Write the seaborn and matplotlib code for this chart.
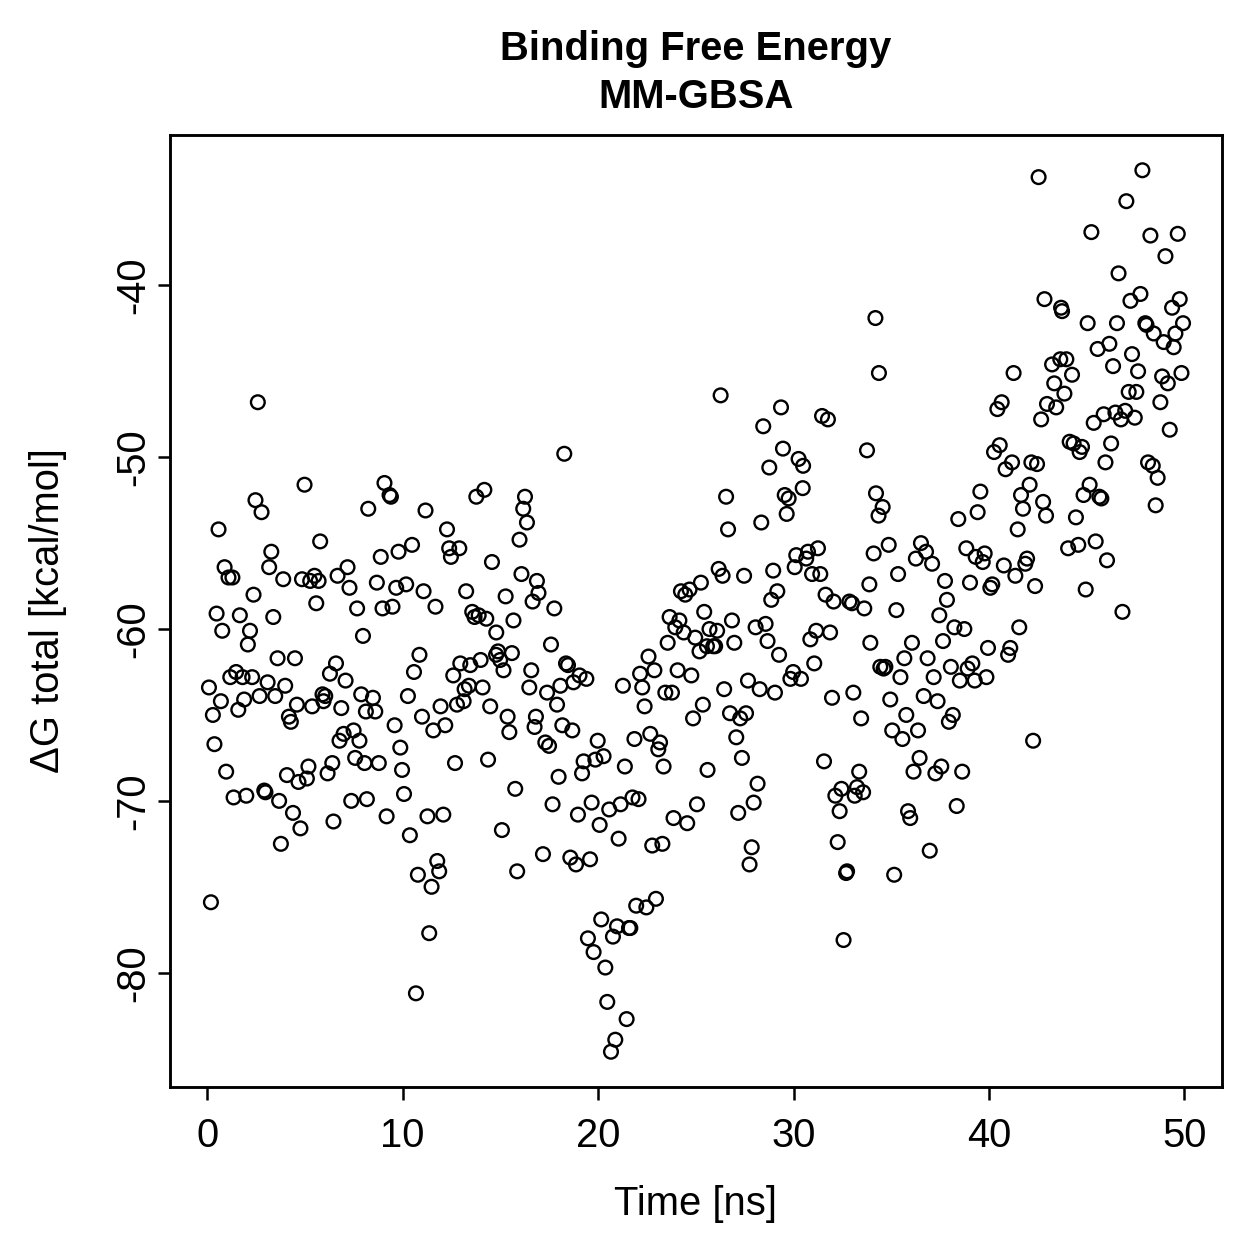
"""
Binding Free Energy (MM-GBSA) ao longo da simulação — gráfico de dispersão
no estilo do plot() base do R: círculos abertos, caixa em volta, eixo y
com rótulos rotacionados.
"""

import numpy as np
import pandas as pd
import matplotlib
matplotlib.use('Agg')
import matplotlib.pyplot as plt
import seaborn as sns

# ── Dados ────────────────────────────────────────────────────────────────────
time_ns = [
    0.09, 0.19, 0.29, 0.37, 0.48, 0.58, 0.70, 0.77, 0.89, 0.97,
    1.09, 1.18, 1.29, 1.35, 1.48, 1.59, 1.67, 1.81, 1.89, 2.00,
    2.08, 2.19, 2.30, 2.37, 2.47, 2.59, 2.68, 2.78, 2.92, 2.98,
    3.09, 3.17, 3.28, 3.38, 3.48, 3.60, 3.68, 3.77, 3.89, 3.99,
    4.08, 4.18, 4.28, 4.39, 4.49, 4.59, 4.67, 4.77, 4.85, 4.98,
    5.10, 5.18, 5.27, 5.37, 5.49, 5.58, 5.70, 5.78, 5.90, 5.95, 6.04,
    6.16, 6.28, 6.40, 6.46, 6.59, 6.67, 6.77, 6.86, 6.98,
    7.08, 7.18, 7.28, 7.37, 7.49, 7.57, 7.67, 7.79, 7.88, 7.97,
    8.05, 8.12, 8.17, 8.24, 8.48, 8.60, 8.68, 8.78, 8.88, 8.97,
    9.07, 9.18, 9.33, 9.40, 9.48, 9.59, 9.67, 9.79, 9.88, 9.97,
    10.07, 10.18, 10.27, 10.37, 10.48, 10.58, 10.68, 10.78, 10.86, 10.99,
    11.07, 11.17, 11.27, 11.36, 11.48, 11.57, 11.68, 11.77, 11.87, 11.94,
    12.08, 12.18, 12.27, 12.38, 12.47, 12.59, 12.68, 12.78, 12.90, 12.95,
    13.12, 13.17, 13.25, 13.39, 13.46, 13.56, 13.68, 13.77, 13.89, 13.99,
    14.09, 14.18, 14.28, 14.37, 14.48, 14.57, 14.78, 14.79, 14.88, 14.99,
    15.08, 15.16, 15.27, 15.37, 15.46, 15.59, 15.67, 15.76, 15.86, 15.98,
    16.08, 16.17, 16.26, 16.36, 16.48, 16.58, 16.65, 16.75, 16.82, 16.87, 16.95,
    17.18, 17.30, 17.39, 17.49, 17.59, 17.67, 17.76, 17.90, 17.98,
    18.07, 18.17, 18.27, 18.36, 18.46, 18.58, 18.68, 18.74, 18.87, 18.97,
    19.05, 19.18, 19.26, 19.40, 19.48, 19.59, 19.67, 19.77, 19.86, 19.98,
    20.08, 20.16, 20.28, 20.37, 20.47, 20.57, 20.66, 20.76, 20.88, 20.97,
    21.05, 21.15, 21.27, 21.37, 21.46, 21.58, 21.65, 21.76, 21.86, 21.95,
    22.07, 22.15, 22.26, 22.38, 22.47, 22.58, 22.67, 22.77, 22.88, 22.96,
    23.08, 23.17, 23.29, 23.35, 23.44, 23.56, 23.66, 23.78, 23.86, 23.95,
    24.07, 24.16, 24.24, 24.38, 24.46, 24.56, 24.68, 24.77, 24.86, 24.97,
    25.06, 25.19, 25.26, 25.36, 25.43, 25.57, 25.60, 25.70, 25.89, 25.99,
    26.09, 26.17, 26.27, 26.37, 26.45, 26.55, 26.65, 26.75, 26.85, 26.97,
    27.07, 27.17, 27.27, 27.36, 27.47, 27.57, 27.67, 27.75, 27.86, 27.96,
    28.06, 28.16, 28.27, 28.35, 28.45, 28.57, 28.67, 28.76, 28.86, 28.96,
    29.05, 29.17, 29.26, 29.36, 29.46, 29.55, 29.65, 29.75, 29.84, 29.98,
    30.06, 30.14, 30.26, 30.38, 30.47, 30.49, 30.65, 30.74, 30.86, 30.95,
    31.06, 31.16, 31.25, 31.37, 31.46, 31.56, 31.64, 31.76, 31.87, 31.97,
    32.05, 32.14, 32.26, 32.36, 32.45, 32.56, 32.69, 32.74, 32.86, 32.99,
    33.06, 33.13, 33.25, 33.36, 33.46, 33.56, 33.62, 33.76, 33.88, 33.93,
    34.10, 34.19, 34.22, 34.35, 34.37, 34.44, 34.56, 34.61, 34.70, 34.87,
    34.95, 35.05, 35.15, 35.26, 35.35, 35.47, 35.57, 35.67, 35.77, 35.86,
    35.97, 36.06, 36.14, 36.26, 36.37, 36.45, 36.52, 36.66, 36.78, 36.86,
    36.97, 37.09, 37.17, 37.26, 37.37, 37.46, 37.56, 37.65, 37.75, 37.85,
    37.95, 38.05, 38.15, 38.23, 38.35, 38.43, 38.51, 38.63, 38.74, 38.84,
    38.91, 39.03, 39.15, 39.27, 39.32, 39.42, 39.56, 39.68, 39.78, 39.87,
    39.95, 40.07, 40.17, 40.26, 40.43, 40.55, 40.65, 40.76, 40.85, 40.98,
    41.09, 41.18, 41.26, 41.35, 41.47, 41.55, 41.64, 41.74, 41.86, 41.95,
    42.08, 42.17, 42.26, 42.36, 42.46, 42.54, 42.67, 42.77, 42.84, 42.92,
    42.97, 43.23, 43.34, 43.44, 43.65, 43.69, 43.74, 43.86, 43.96, 44.05,
    44.13, 44.25, 44.33, 44.45, 44.57, 44.64, 44.76, 44.84, 44.95, 45.05,
    45.15, 45.24, 45.36, 45.46, 45.56, 45.65, 45.75, 45.87, 45.96, 46.04,
    46.16, 46.25, 46.35, 46.47, 46.55, 46.63, 46.75, 46.83, 46.97, 47.03,
    47.15, 47.24, 47.32, 47.46, 47.54, 47.63, 47.75, 47.85, 48.00, 48.06,
    48.14, 48.26, 48.38, 48.43, 48.53, 48.63, 48.77, 48.86, 48.94, 49.03,
    49.15, 49.25, 49.37, 49.45, 49.54, 49.66, 49.76, 49.85, 49.93,
]

dg_total = [
    -63.4, -75.9, -65.0, -66.7, -59.1, -54.2, -64.2, -60.1, -56.4, -68.3,
    -57.0, -62.8, -57.0, -69.8, -62.5, -64.7, -59.2, -62.8, -64.1, -69.7,
    -60.9, -60.1, -62.8, -58.0, -52.5, -46.8, -63.9, -53.2, -69.4, -69.5,
    -63.1, -56.4, -55.5, -59.3, -63.9, -61.7, -70.0, -72.5, -57.1, -63.3,
    -68.5, -65.1, -65.4, -70.7, -61.7, -64.4, -68.9, -71.6, -57.1, -51.6,
    -68.7, -68.0, -57.2, -64.5, -56.9, -58.5, -57.2, -54.9, -63.8, -64.2, -63.9,
    -68.4, -62.6, -67.8, -71.2, -62.0, -56.9, -66.5, -64.6, -66.1,
    -63.0, -56.4, -57.6, -70.0, -65.9, -67.5, -58.8, -66.5, -63.8, -60.4,
    -67.8, -64.8, -69.9, -53.0, -64.0, -64.8, -57.3, -67.8, -55.8, -58.8,
    -51.5, -70.9, -52.2, -52.3, -58.7, -65.6, -57.6, -55.5, -66.9, -68.2,
    -69.6, -57.4, -63.9, -72.0, -55.1, -62.5, -81.2, -74.3, -61.5, -65.1,
    -57.8, -53.1, -70.9, -77.7, -75.0, -65.9, -58.7, -73.5, -74.1, -64.5,
    -70.8, -65.6, -54.2, -55.3, -55.8, -62.7, -67.8, -64.4, -55.3, -62.0,
    -64.2, -63.5, -57.8, -63.3, -62.1, -59.0, -59.3, -52.3, -59.2, -61.8,
    -63.4, -51.9, -59.4, -67.6, -64.5, -56.1, -61.5, -60.2, -61.3, -61.8,
    -71.7, -62.4, -58.1, -65.1, -66.0, -61.4, -59.5, -69.3, -74.1, -54.8,
    -56.8, -53.0, -52.3, -53.8, -63.4, -62.4, -58.4, -65.7, -65.1, -57.2, -57.9,
    -73.1, -66.6, -63.7, -66.8, -60.9, -70.2, -58.8, -64.4, -68.6,
    -63.3, -65.6, -49.8, -62.0, -62.1, -73.3, -65.9, -63.1, -73.7, -70.8,
    -62.7, -68.4, -67.7, -62.9, -78.0, -73.4, -70.1, -78.8, -67.6, -66.5,
    -71.4, -76.9, -67.4, -79.7, -81.7, -70.5, -84.6, -77.9, -83.9, -77.3,
    -72.2, -70.2, -63.3, -68.0, -82.7, -77.4, -77.4, -69.8, -66.4, -76.1,
    -69.9, -62.6, -63.4, -64.5, -76.2, -61.6, -66.1, -72.6, -62.4, -75.7,
    -67.0, -66.6, -72.5, -68.0, -63.7, -60.8, -59.3, -63.7, -71.0, -59.9,
    -62.4, -59.5, -57.8, -60.2, -58.0, -71.3, -57.7, -62.7, -65.2, -60.5,
    -70.2, -61.3, -57.3, -64.4, -59.0, -61.0, -68.2, -60.0, -61.0, -61.0,
    -60.1, -56.5, -46.4, -56.9, -63.5, -52.3, -54.2, -64.9, -59.5, -60.8,
    -66.3, -70.7, -65.2, -67.5, -56.9, -64.9, -63.0, -73.7, -72.7, -70.1,
    -59.9, -69.0, -63.5, -53.8, -48.2, -59.7, -60.7, -50.6, -58.3, -56.6,
    -63.7, -57.8, -61.5, -47.1, -49.5, -52.2, -53.3, -52.4, -62.9, -62.5,
    -56.4, -55.7, -50.1, -62.9, -51.8, -50.5, -55.9, -55.5, -60.6, -56.8,
    -62.0, -60.1, -55.3, -56.8, -47.6, -67.7, -58.0, -47.8, -60.2, -64.0,
    -58.4, -69.7, -72.4, -70.6, -69.3, -78.1, -74.2, -74.1, -58.4, -58.5,
    -63.7, -69.7, -69.2, -68.3, -65.2, -69.5, -58.8, -49.6, -57.4, -60.8,
    -55.6, -41.9, -52.1, -53.4, -45.1, -62.2, -52.9, -62.3, -62.2, -55.1,
    -64.1, -65.9, -74.3, -58.9, -56.8, -62.8, -66.4, -61.7, -65.0, -70.6,
    -71.0, -60.8, -68.3, -55.9, -65.9, -67.5, -55.0, -63.9, -55.5, -61.7,
    -72.9, -56.2, -62.8, -68.4, -64.2, -59.2, -68.0, -60.7, -57.2, -58.3,
    -65.4, -62.2, -65.0, -59.9, -70.3, -53.6, -63.0, -68.3, -60.0, -55.3,
    -62.3, -57.3, -62.0, -63.0, -55.8, -53.2, -52.0, -56.1, -55.6, -62.8,
    -61.1, -57.6, -57.4, -49.7, -47.2, -49.3, -46.8, -56.3, -50.7, -61.5,
    -61.1, -50.3, -45.1, -56.9, -54.2, -59.9, -52.2, -53.0, -56.2, -55.9,
    -51.6, -50.3, -66.5, -57.5, -50.4, -33.7, -47.8, -52.6, -40.8, -53.4,
    -46.9, -44.6, -45.7, -47.1, -44.3, -41.3, -41.5, -46.3, -44.3, -55.3,
    -49.1, -45.2, -49.2, -53.5, -55.1, -49.7, -49.4, -52.2, -57.7, -42.2,
    -51.6, -36.9, -48.0, -54.9, -43.7, -52.3, -52.4, -47.5, -50.3, -56.0,
    -43.4, -49.2, -44.7, -47.4, -42.2, -39.3, -47.8, -59.0, -47.3, -35.1,
    -46.2, -40.9, -44.0, -47.7, -46.2, -45.0, -40.5, -33.3, -42.2, -42.3,
    -50.3, -37.1, -50.5, -42.8, -52.8, -51.2, -46.8, -45.3, -43.3, -38.3,
    -45.7, -48.4, -41.3, -43.6, -42.8, -37.0, -40.8, -45.1, -42.2,
]

x_ticks = [0, 10, 20, 30, 40, 50]
y_ticks = [-80, -70, -60, -50, -40]

df = pd.DataFrame({'time': time_ns, 'dg': dg_total})

# ── Estilo ───────────────────────────────────────────────────────────────────
sns.set_style('ticks')
plt.rcParams['font.family'] = ['Liberation Sans', 'DejaVu Sans']
plt.rcParams['text.color'] = 'black'
plt.rcParams['axes.labelcolor'] = 'black'
plt.rcParams['xtick.color'] = 'black'
plt.rcParams['ytick.color'] = 'black'

FS = 16  # tamanho base do texto (cex = 1)

W = 1259
fig = plt.figure(figsize=(W / 180, W / 180), dpi=180)
ax = fig.add_axes([170 / W, 1 - 1087 / W, (1222 - 170) / W, (1087 - 135) / W])

sns.scatterplot(data=df, x='time', y='dg', ax=ax, marker='o', s=30,
                facecolor='none', edgecolor='black', linewidth=0.95)

# limites no estilo do R (4% de folga)
def r_lim(v):
    lo, hi = min(v), max(v)
    pad = 0.04 * (hi - lo)
    return lo - pad, hi + pad

ax.set_xlim(*r_lim(time_ns))
ax.set_ylim(*r_lim(dg_total))
ax.set_xticks(x_ticks)
ax.set_yticks(y_ticks)
ax.set_yticklabels([str(v) for v in y_ticks], rotation=90, va='center')

for sp in ax.spines.values():
    sp.set_visible(True)
    sp.set_linewidth(1.15)
    sp.set_color('black')
ax.tick_params(axis='both', direction='out', length=5, width=1.0,
               colors='black', labelsize=FS)
ax.tick_params(axis='x', pad=7)
ax.tick_params(axis='y', pad=2)

ax.set_xlabel('Time [ns]', fontsize=FS, labelpad=12)
ax.set_ylabel('ΔG total [kcal/mol]', fontsize=FS, labelpad=19)
ax.set_title('Binding Free Energy\nMM-GBSA', fontsize=FS, fontweight='bold',
             pad=11, linespacing=1.3, color='black')

fig.savefig('out.png', dpi=180)
